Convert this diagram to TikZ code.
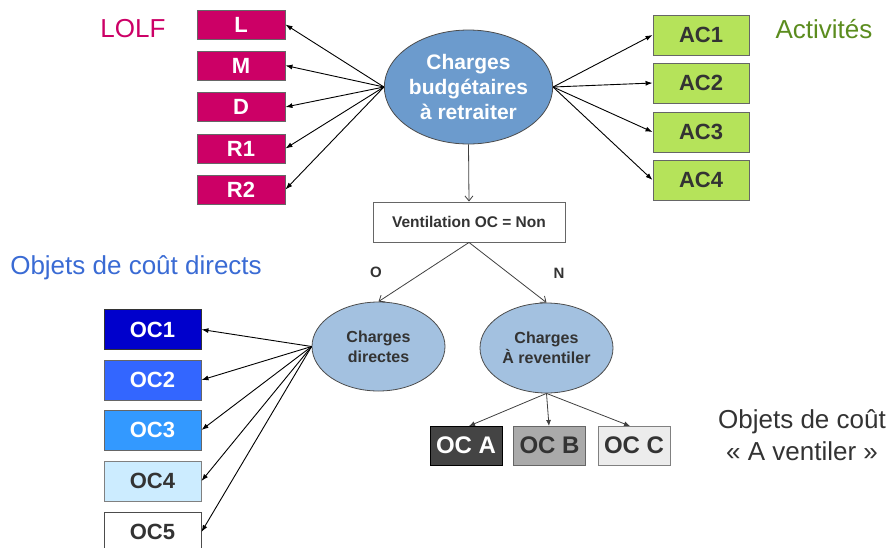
\documentclass[tikz,border=0pt]{standalone}
\usepackage{fontspec}
\setmainfont{Liberation Sans}
\usetikzlibrary{arrows.meta,shapes.geometric}
\definecolor{lolf}{HTML}{CC0066}
\definecolor{acgreen}{HTML}{B5E35A}
\definecolor{actxt}{HTML}{5B8C1E}
\definecolor{dtxt}{HTML}{333333}
\definecolor{bigell}{HTML}{6C9BCD}
\definecolor{smell}{HTML}{A3C1E0}
\definecolor{objblue}{HTML}{3A6BD4}
\tikzset{
  box/.style={draw=gray!80!black, line width=0.9pt, rectangle, inner sep=0pt, font=\fontsize{22}{24}\selectfont\bfseries},
  lbox/.style={box, fill=lolf, text=white, minimum width=88pt, minimum height=29pt},
  acbox/.style={box, fill=acgreen, text=dtxt, minimum width=96pt, minimum height=40pt},
  ocbox/.style={box, minimum width=97pt, minimum height=40pt},
  ocabc/.style={box, minimum width=72pt, minimum height=39pt, font=\fontsize{24}{26}\selectfont\bfseries},
  arr/.style={-{Latex[length=7pt,width=5pt]}, line width=0.9pt, black},
  garr/.style={-{Latex[length=6pt,width=5pt]}, line width=0.8pt, black!75},
  oarr/.style={-{Straight Barb[length=5pt,width=8pt]}, line width=0.8pt, black!75},
  title/.style={font=\fontsize{26}{30}\selectfont, inner sep=0pt},
}
\begin{document}
\begin{tikzpicture}[x=1pt,y=-1pt]
\useasboundingbox (0,0) rectangle (892,547);
% titles
\node[title, text=lolf] (tlolf) at (133,29) {LOLF};
\node[title, text=actxt] (tact) at (824,29) {Activités};
\node[title, text=objblue] (tobj) at (136,268) {Objets de coût directs};
\node[title, text=dtxt, align=center, font=\fontsize{26}{32}\selectfont] (tvent) at (802,435) {Objets de coût\\« A ventiler »};
% main ellipse
\node[ellipse, draw=black!70, line width=0.8pt, fill=bigell, minimum width=151pt, minimum height=114pt, inner sep=0pt, align=center, text=white, font=\fontsize{21}{25}\selectfont\bfseries] (main) at (468.5,87) {Charges\\budgétaires\\à retraiter};
% LOLF boxes
\node[lbox] (L) at (241,24.5) {L};
\node[lbox] (M) at (241,65.5) {M};
\node[lbox] (D) at (241,107) {D};
\node[lbox] (R1) at (241,148.5) {R1};
\node[lbox] (R2) at (241,189.5) {R2};
% AC boxes
\node[acbox] (AC1) at (701,35) {AC1};
\node[acbox] (AC2) at (701,83) {AC2};
\node[acbox] (AC3) at (701,132) {AC3};
\node[acbox] (AC4) at (701,180) {AC4};
\foreach \n in {L,M,D,R1,R2} \draw[arr] (main.west) -- (\n.east);
\foreach \n in {AC1,AC2,AC3,AC4} \draw[arr] (main.east) -- (\n.west);
% ventilation
\node[box, fill=white, minimum width=192pt, minimum height=40pt, text=dtxt, font=\fontsize{15.5}{18}\selectfont\bfseries] (vent) at (469,222) {Ventilation OC = Non};
\draw[oarr] (main.south) -- (vent.north);
% second level ellipses
\node[ellipse, draw=black!70, line width=0.8pt, fill=smell, minimum width=133pt, minimum height=89pt, inner sep=0pt, align=center, text=dtxt, font=\fontsize{16}{20}\selectfont\bfseries] (cd) at (378.5,346.5) {Charges\\directes};
\node[ellipse, draw=black!70, line width=0.8pt, fill=smell, minimum width=133pt, minimum height=90pt, inner sep=0pt, align=center, text=dtxt, font=\fontsize{16}{20}\selectfont\bfseries] (cr) at (546.5,348) {Charges\\À reventiler};
\draw[oarr] (vent.south) -- (cd.north);
\draw[oarr] (vent.south) -- (cr.north);
\node[font=\fontsize{15}{17}\selectfont\bfseries, text=dtxt, inner sep=0pt] (lO) at (376,272) {O};
\node[font=\fontsize{15}{17}\selectfont\bfseries, text=dtxt, inner sep=0pt] (lN) at (559,273) {N};
% OC boxes
\node[ocbox, fill=blue!80!black, draw=black!80, text=white] (OC1) at (152.5,329.5) {OC1};
\node[ocbox, fill={rgb,255:red,51;green,102;blue,255}, draw=black!60, text=white] (OC2) at (152.5,380) {OC2};
\node[ocbox, fill={rgb,255:red,51;green,153;blue,255}, draw=black!60, text=white] (OC3) at (152.5,430) {OC3};
\node[ocbox, fill={rgb,255:red,204;green,236;blue,255}, draw=black!50, text=dtxt] (OC4) at (152.5,481) {OC4};
\node[ocbox, fill=white, draw=black!70, text=dtxt] (OC5) at (152.5,532) {OC5};
\foreach \n in {OC1,OC2,OC3,OC4,OC5} \draw[arr] (cd.west) -- (\n.east);
% OC A B C
\node[ocabc, fill={rgb,255:red,68;green,68;blue,68}, draw=black, text=white] (OCA) at (466,445.5) {OC A};
\node[ocabc, fill={rgb,255:red,170;green,170;blue,170}, draw=black!60, text=dtxt] (OCB) at (549.5,445.5) {OC B};
\node[ocabc, fill={rgb,255:red,236;green,236;blue,236}, draw=black!50, text=dtxt] (OCC) at (634,445.5) {OC C};
\coordinate (ta) at (469,426);
\coordinate (tb) at (549,426);
\coordinate (tc) at (630,426);
\draw[garr] (cr.south) -- (ta);
\draw[garr] (cr.south) -- (tb);
\draw[garr] (cr.south) -- (tc);
\end{tikzpicture}
\end{document}
